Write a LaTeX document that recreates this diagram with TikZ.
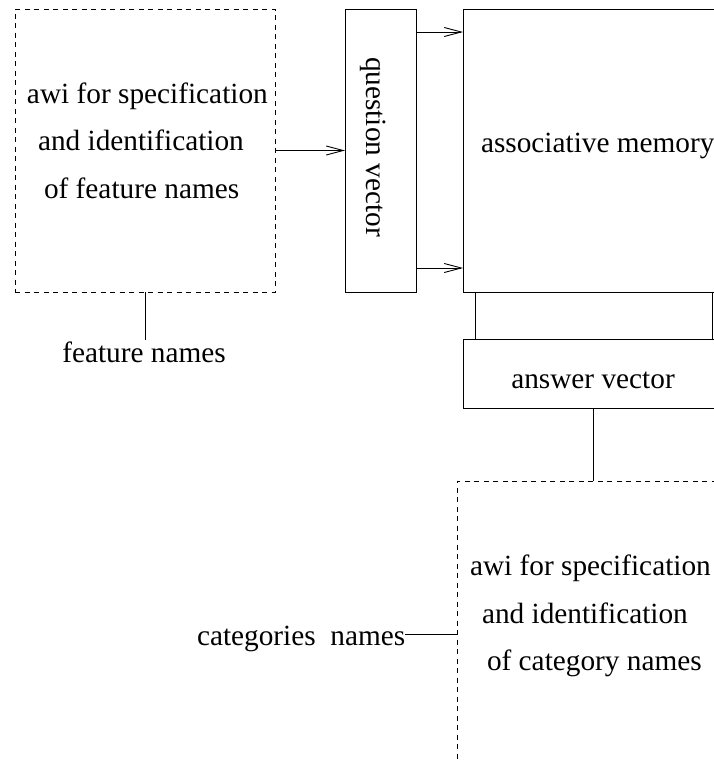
\documentclass[tikz,border=0pt]{standalone}
\usepackage{fontspec}
\setmainfont{Liberation Serif}
\usetikzlibrary{arrows.meta,calc}

\begin{document}
\begin{tikzpicture}[x=1pt,y=-1pt,
  line width=0.9pt,
  every node/.style={font=\fontsize{29.3}{35}\selectfont},
  solidbox/.style={draw,rectangle,inner sep=0pt,outer sep=0pt},
  awibox/.style={draw,rectangle,inner sep=0pt,outer sep=0pt,dash pattern=on 5pt off 4.5pt},
  txt/.style={inner sep=0pt,outer sep=0pt},
  feed/.style={-{Straight Barb[length=17pt,width=9pt,line width=0.9pt]}},
]
\useasboundingbox (0,0) rectangle (714,763);
\clip (0,0) rectangle (714,763);

% boxes
\node[awibox, minimum width=260pt, minimum height=283pt] (featbox) at (145,150.5) {};
\node[solidbox, minimum width=71pt, minimum height=283pt] (qv) at (380.5,150.5) {};
\node[solidbox, minimum width=261pt, minimum height=283pt] (am) at (593.5,150.5) {};
\node[solidbox, minimum width=261pt, minimum height=69pt] (av) at (593.5,373.5) {};
\node[awibox, minimum width=268pt, minimum height=284pt] (catbox) at (591,623) {};

% texts inside the boxes
\node[txt, anchor=base west] (featA) at (27,103) {awi for specification};
\node[txt, anchor=base west] (featB) at (38,150) {and identification};
\node[txt, anchor=base west] (featC) at (44,198) {of feature names};

\node[txt, rotate=-90, anchor=base] (qvtext) at (366,147) {question vector};
\node[txt, anchor=base west] (amtext) at (481,152) {associative memory};
\node[txt, anchor=base] (avtext) at (593,388) {answer vector};

\node[txt, anchor=base west] (catA) at (470,575) {awi for specification};
\node[txt, anchor=base west] (catB) at (482,623) {and identification};
\node[txt, anchor=base west] (catC) at (487,670) {of category names};

% outside labels
\node[txt, inner sep=1.5pt, anchor=base] (featnames) at (144,362) {feature names};
\node[txt, anchor=base west] (catnames) at (197,645) {categories\ \ names};

% connectors
\draw[feed] (featbox.east) -- (qv.west);
\draw[feed] ([yshift=-23pt]qv.north east) -- ([yshift=-23pt]am.north west);
\draw[feed] ([yshift=24pt]qv.south east) -- ([yshift=24pt]am.south west);
\draw ([xshift=12pt]am.south west) -- ([xshift=12pt]av.north west);
\draw ([xshift=-12pt]am.south east) -- ([xshift=-12pt]av.north east);
\draw (av.south) -- (av.south |- catbox.north);
\draw (featbox.south) -- (featbox.south |- featnames.north);
\draw ([yshift=4pt]catnames.east) -- ([yshift=4pt]catnames.east -| catbox.west);
\end{tikzpicture}
\end{document}
